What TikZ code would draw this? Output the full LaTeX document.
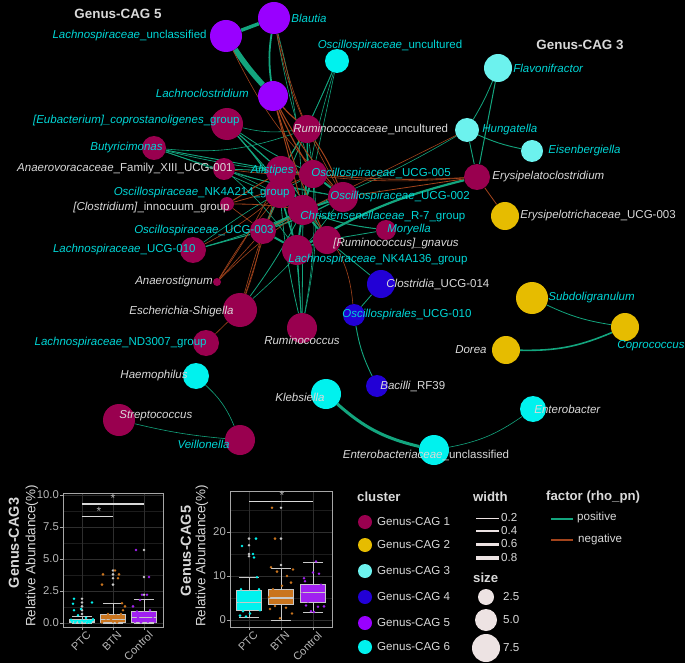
\documentclass[tikz,border=0pt]{standalone}
\usepackage{fontspec}
\setmainfont{Liberation Sans}
\usetikzlibrary{positioning,backgrounds}
\pgfdeclarelayer{edgelayer}
\pgfsetlayers{background,edgelayer,main}
\definecolor{cagOne}{HTML}{99004F}
\definecolor{cagTwo}{HTML}{E6BC00}
\definecolor{cagThree}{HTML}{6CF2EE}
\definecolor{cagFour}{HTML}{2200D6}
\definecolor{cagFive}{HTML}{9900FF}
\definecolor{cagSix}{HTML}{00F2EE}
\definecolor{labCyan}{HTML}{00D6D6}
\definecolor{labGrey}{HTML}{D9D9D9}
\definecolor{posColor}{HTML}{13A57E}
\definecolor{negColor}{HTML}{A3441C}
\definecolor{gridMajor}{HTML}{2E2E2E}
\definecolor{gridMinor}{HTML}{1C1C1C}
\definecolor{frameColor}{HTML}{A6A6A6}
\definecolor{boxLine}{HTML}{C8C8C8}
\definecolor{btnColor}{HTML}{C9741E}
\definecolor{ctlColor}{HTML}{A020F0}
\definecolor{legLight}{HTML}{EDE3E3}
\newcommand{\netfont}{\fontsize{11.5}{13}\selectfont}
\newcommand{\gn}[1]{\textit{#1}}
% one box with whiskers: x, lo, q1, median, q3, hi, fill
\newcommand{\boxwhisk}[7]{%
	\draw[boxLine, line width=0.8pt] (#1,#2) -- (#1,#3) (#1,#5) -- (#1,#6);
	\draw[boxLine, line width=0.8pt] (#1-10,#2) -- (#1+10,#2) (#1-10,#6) -- (#1+10,#6);
	\draw[boxLine, fill=#7, line width=0.8pt] (#1-12.5,#3) rectangle (#1+12.5,#5);
	\draw[boxLine, line width=1.2pt] (#1-12.5,#4) -- (#1+12.5,#4);
}
\tikzset{
	taxon/.style={circle, inner sep=0pt, minimum size=#1},
	cagA/.style={taxon=#1, fill=cagOne},
	cagB/.style={taxon=#1, fill=cagTwo},
	cagC/.style={taxon=#1, fill=cagThree},
	cagD/.style={taxon=#1, fill=cagFour},
	cagE/.style={taxon=#1, fill=cagFive},
	cagF/.style={taxon=#1, fill=cagSix},
	cyanlab/.style={text=labCyan, font=\netfont, inner sep=1pt},
	greylab/.style={text=labGrey, font=\netfont, inner sep=1pt},
	captitle/.style={text=labGrey, font=\bfseries\fontsize{13.4}{15}\selectfont},
	posedge/.style={draw=posColor, line width=#1},
	negedge/.style={draw=negColor, line width=#1},
	ticklab/.style={text=labGrey!85!black, font=\fontsize{11.3}{13}\selectfont, inner sep=1pt},
	axtitle/.style={text=labGrey, font=\fontsize{13.5}{15}\selectfont, inner sep=0pt},
	legtitle/.style={text=labGrey, font=\bfseries\fontsize{13.2}{15}\selectfont, inner sep=0pt},
	legtext/.style={text=labGrey, font=\fontsize{11.6}{13}\selectfont, inner sep=0pt},
	sigbar/.style={draw=labGrey, line width=1.2pt}
}

\begin{document}
\begin{tikzpicture}[x=1pt, y=-1pt]
	\useasboundingbox (0,0) rectangle (685,663);
	\begin{scope}[on background layer]
		\fill[black] (0,0) rectangle (685,663);
	\end{scope}
	
	% Genus-CAG 5
	\node[cagE=32] at (274,18) (blautia) {};
	\node[cagE=32] at (226,36) (lachunc) {};
	\node[cagE=30] at (273,96) (lachnoclos) {};
	% Genus-CAG 3
	\node[cagC=28] at (498,68) (flavon) {};
	\node[cagC=24] at (467,130) (hungat) {};
	\node[cagC=22] at (532,151) (eisenb) {};
	% Genus-CAG 2
	\node[cagB=28] at (505,216) (erysuc3) {};
	\node[cagB=32] at (532,298) (subdoli) {};
	\node[cagB=28] at (625,327) (coproc) {};
	\node[cagB=28] at (506,350) (dorea) {};
	% Genus-CAG 4
	\node[cagD=28] at (381,284) (clostr14) {};
	\node[cagD=22] at (354,315) (oscl010) {};
	\node[cagD=22] at (377,386) (bacilli) {};
	% Genus-CAG 6
	\node[cagF=24] at (337,61) (oscunc) {};
	\node[cagF=26] at (533,409) (enterobacter) {};
	\node[cagF=30] at (434,450) (enterounc) {};
	\node[cagF=30] at (326,394) (klebsiella) {};
	\node[cagF=26] at (196,376) (haemoph) {};
	% Genus-CAG 1
	\node[cagA=26] at (477,177) (erysipela) {};
	\node[cagA=32] at (119,420) (streptoc) {};
	\node[cagA=30] at (240,440) (veillon) {};
	\node[cagA=34] at (240,310) (escher) {};
	\node[cagA=26] at (206,343) (lachnd3007) {};
	\node[cagA=30] at (302,328) (rumino) {};
	\node[cagA=8] at (217,282) (anaerost) {};
	\node[cagA=26] at (193,250) (lachucg010) {};
	\node[cagA=26] at (263,231) (oscucg003) {};
	\node[cagA=14] at (227,204) (clostinnoc) {};
	\node[cagA=22] at (224,169) (anaerovor) {};
	\node[cagA=24] at (154,148) (butyr) {};
	\node[cagA=32] at (227,124) (eubact) {};
	\node[cagA=28] at (307,129) (rumunc) {};
	\node[cagA=20] at (386,230) (moryella) {};
	\node[cagA=30] at (297,250) (lachnk4a136) {};
	\node[cagA=28] at (327,240) (rumgnav) {};
	\node[cagA=30] at (280,193) (oscnk4a214) {};
	\node[cagA=30] at (281,171) (alistipes) {};
	\node[cagA=30] at (303,210) (christ) {};
	\node[cagA=28] at (313,174) (oscucg005) {};
	\node[cagA=30] at (343,197) (oscucg002) {};
	
	\begin{pgfonlayer}{edgelayer}
		% positive
		\foreach \a/\b/\w/\bd in {lachunc/lachnoclos/5.5/-4, lachunc/blautia/3.5/0, blautia/lachnoclos/1.8/-8,
			klebsiella/enterounc/3/-14, dorea/coproc/1.6/-12, subdoli/coproc/0.8/-8, enterounc/enterobacter/0.6/-12,
			haemoph/veillon/0.6/12, streptoc/veillon/0.6/-4, clostr14/oscl010/0.8/0, oscl010/bacilli/0.9/-8,
			rumgnav/clostr14/0.8/0, flavon/hungat/0.8/4, flavon/erysipela/1/0, hungat/eisenb/0.9/-6,
			hungat/erysipela/0.9/0, hungat/christ/0.6/4, erysipela/lachnk4a136/2.2/-8,
			oscunc/rumunc/0.6/0, oscunc/alistipes/0.6/4, oscunc/oscucg005/0.6/0, oscunc/christ/0.6/-4,
			blautia/oscucg005/0.6/-4, blautia/christ/0.6/6,
			butyr/oscucg005/0.7/-4, butyr/oscucg002/0.7/-4, butyr/christ/0.7/4, butyr/alistipes/0.9/0, butyr/rumunc/0.6/-12,
			eubact/rumunc/0.6/-10, eubact/oscucg005/0.8/-4, eubact/alistipes/1.2/0, eubact/oscnk4a214/1.2/4, eubact/christ/0.8/0,
			anaerovor/alistipes/0.8/0, anaerovor/christ/0.6/4, anaerovor/oscucg002/0.6/-4, anaerovor/lachnk4a136/0.6/6,
			rumino/oscnk4a214/0.8/4, rumino/christ/0.8/0, rumino/alistipes/0.6/-4, rumino/lachnk4a136/1/0,
			rumino/oscucg005/0.6/-6, rumino/rumunc/0.6/-10, escher/christ/0.8/-4, escher/oscucg002/0.6/-6,
			lachucg010/christ/0.8/-4, lachucg010/oscucg005/0.6/4, lachucg010/oscucg003/1/0,
			rumunc/alistipes/1/0, rumunc/oscnk4a214/0.8/0, rumunc/christ/1.4/4,
			christ/oscucg003/3/0, oscnk4a214/christ/3/0, alistipes/christ/2.5/0, alistipes/oscucg005/2/0,
			oscucg005/oscucg002/2/0, oscucg002/christ/2/0, oscucg003/lachnk4a136/2/0, christ/lachnk4a136/2/0,
			christ/rumgnav/2/0, oscnk4a214/oscucg003/2/0, alistipes/oscnk4a214/3/0, oscucg005/christ/2/0,
			christ/moryella/1/-6, moryella/rumgnav/0.8/0, lachnk4a136/rumgnav/1.4/0, alistipes/rumgnav/1/4,
			oscnk4a214/lachnk4a136/1.6/0, oscucg003/oscucg002/1.2/-4}
			\path (\a) edge[posedge=\w pt, bend left=\bd] (\b);
		% negative
		\foreach \a/\b/\w/\bd in {erysipela/erysuc3/0.8/0, erysipela/oscucg005/0.8/4, erysipela/oscucg002/0.8/0,
			erysipela/alistipes/0.6/6, hungat/oscucg003/0.6/0,
			lachnoclos/rumunc/1.2/-4, lachnoclos/oscucg005/1.2/-4, lachnoclos/oscucg002/1/-6, lachnoclos/christ/1/0,
			lachnoclos/rumgnav/1/-4, blautia/rumunc/0.6/-6, blautia/oscucg002/0.6/-8, lachunc/oscucg002/0.6/-10,
			escher/lachnd3007/0.6/0, escher/oscucg003/0.6/-4, escher/oscnk4a214/0.6/4, escher/alistipes/0.6/-2,
			anaerost/oscucg003/0.6/0, anaerost/oscnk4a214/0.6/4, anaerost/alistipes/0.6/-4, anaerost/christ/0.6/4,
			clostinnoc/alistipes/1/0, clostinnoc/oscucg005/0.8/-4, clostinnoc/christ/0.8/4, clostinnoc/oscucg003/0.6/0,
			anaerovor/oscucg005/0.6/-4, christ/oscl010/0.6/20, lachucg010/oscnk4a214/0.6/-6, oscucg002/rumunc/1/-6}
			\path (\a) edge[negedge=\w pt, bend left=\bd] (\b);
	\end{pgfonlayer}
	
	% labels
	\node[cyanlab, right=0pt of blautia] (blautiaT) {\gn{Blautia}};
	\node[cyanlab, left=2pt of lachunc] (lachuncT) {\gn{Lachnospiraceae}\_unclassified};
	\node[cyanlab, left=8pt of lachnoclos, yshift=3pt] (lachnoclosT) {\gn{Lachnoclostridium}};
	\node[cyanlab, above=-3pt of oscunc, xshift=53pt] (oscuncT) {\gn{Oscillospiraceae}\_uncultured};
	\node[cyanlab, right=0pt of flavon] (flavonT) {\gn{Flavonifractor}};
	\node[cyanlab, right=2pt of hungat] (hungatT) {\gn{Hungatella}};
	\node[cyanlab, right=4pt of eisenb] (eisenbT) {\gn{Eisenbergiella}};
	\node[greylab, right=1pt of erysipela] (erysipelaT) {\gn{Erysipelatoclostridium}};
	\node[greylab, right=0pt of erysuc3] (erysuc3T) {\gn{Erysipelotrichaceae}\_UCG-003};
	\node[cyanlab, right=-1pt of subdoli] (subdoliT) {\gn{Subdoligranulum}};
	\node[cyanlab, below=-2pt of coproc, xshift=26pt] (coprocT) {\gn{Coprococcus}};
	\node[greylab, left=4pt of dorea] (doreaT) {\gn{Dorea}};
	\node[greylab, right=-10pt of clostr14] (clostr14T) {\gn{Clostridia}\_UCG-014};
	\node[cyanlab, right=-24pt of oscl010] (oscl010T) {\gn{Oscillospirales}\_UCG-010};
	\node[greylab, right=-9pt of bacilli] (bacilliT) {\gn{Bacilli}\_RF39};
	\node[greylab, right=-13pt of enterobacter] (enterobacterT) {\gn{Enterobacter}};
	\node[greylab, below=-16pt of enterounc, xshift=-8pt] (enterouncT) {\gn{Enterobacteriaceae}\_unclassified};
	\node[greylab, left=-15pt of klebsiella, yshift=-3pt] (klebsiellaT) {\gn{Klebsiella}};
	\node[greylab, left=-6pt of haemoph] (haemophT) {\gn{Haemophilus}};
	\node[greylab, right=-17pt of streptoc, yshift=4pt] (streptocT) {\gn{Streptococcus}};
	\node[cyanlab, left=-6pt of veillon, yshift=-4pt] (veillonT) {\gn{Veillonella}};
	\node[greylab, left=-12pt of escher, yshift=-2pt] (escherT) {\gn{Escherichia-Shigella}};
	\node[cyanlab, left=-15pt of lachnd3007] (lachnd3007T) {\gn{Lachnospiraceae}\_ND3007\_group};
	\node[greylab, below=-8pt of rumino] (ruminoT) {\gn{Ruminococcus}};
	\node[greylab, left=-1pt of anaerost] (anaerostT) {\gn{Anaerostignum}};
	\node[cyanlab, left=-17pt of lachucg010] (lachucg010T) {\gn{Lachnospiraceae}\_UCG-010};
	\node[cyanlab, left=-25pt of oscucg003] (oscucg003T) {\gn{Oscillospiraceae}\_UCG-003};
	\node[greylab, left=-11pt of clostinnoc, yshift=-4pt] (clostinnocT) {\gn{[Clostridium]}\_innocuum\_group};
	\node[cyanlab, left=-26pt of oscnk4a214] (oscnk4a214T) {\gn{Oscillospiraceae}\_NK4A214\_group};
	\node[greylab, left=-21pt of anaerovor] (anaerovorT) {\gn{Anaerovoracaceae}\_Family\_XIII\_UCG-001};
	\node[cyanlab, left=-22pt of butyr] (butyrT) {\gn{Butyricimonas}};
	\node[cyanlab, left=-30pt of eubact, yshift=3pt] (eubactT) {\gn{[Eubacterium]\_coprostanoligenes}\_group};
	\node[greylab, right=-29pt of rumunc] (rumuncT) {\gn{Ruminococcaceae}\_uncultured};
	\node[cyanlab, left=-29pt of alistipes] (alistipesT) {\gn{Alistipes}};
	\node[cyanlab, right=-17pt of oscucg005] (oscucg005T) {\gn{Oscillospiraceae}\_UCG-005};
	\node[cyanlab, right=-29pt of oscucg002] (oscucg002T) {\gn{Oscillospiraceae}\_UCG-002};
	\node[cyanlab, right=-19pt of christ, yshift=-7pt] (christT) {\gn{Christensenellaceae}\_R-7\_group};
	\node[cyanlab, right=-10pt of moryella] (moryellaT) {\gn{Moryella}};
	\node[greylab, right=-9pt of rumgnav, yshift=-4pt] (rumgnavT) {\gn{[Ruminococcus]\_gnavus}};
	\node[cyanlab, right=-25pt of lachnk4a136, yshift=-10pt] (lachnk4a136T) {\gn{Lachnospiraceae}\_NK4A136\_group};
	
	\node[captitle] at (118,14) (capFive) {Genus-CAG 5};
	\node[captitle] at (580,45) (capThree) {Genus-CAG 3};
	
	% boxplot Genus-CAG3
	\begin{scope}[shift={(0,623)}, y=12.8pt]
		\foreach \v in {1.25,3.75,6.25,8.75} \draw[gridMinor, line width=0.4pt] (63,\v) -- (163,\v);
		\foreach \v in {0,2.5,5,7.5,10} \draw[gridMajor, line width=0.8pt] (63,\v) -- (163,\v);
		\foreach \x in {82,113,144} \draw[gridMajor, line width=0.8pt] (\x,-0.31) -- (\x,10.16);
		\boxwhisk{82}{0}{0.02}{0.1}{0.3}{0.55}{cagSix}
		\boxwhisk{113}{0}{0.05}{0.3}{0.7}{1.55}{btnColor}
		\boxwhisk{144}{0}{0.05}{0.4}{0.9}{1.85}{ctlColor}
		\foreach \x/\v in {82/1.9,82/1.6,82/1.3,82/1.0,82/0.7,113/3.0,113/3.5,113/3.8,113/4.1,144/2.2,144/3.6,144/5.7}
			\fill[boxLine] (\x,\v) circle (1.4pt);
		\foreach \dx/\v in {-8/1.9,-9/1.5,-8/1.0,-1/1.1,10/1.6,4/0.4,-4/0.6,7/0.2,-10/0.1,-6/0.15,-2/0.05,2/0.1,
			6/0.08,9/0.12,11/0.3,0/0.2,-11/0.25,3/0.15,-7/0.05,5/0.03,8/0.05,-3/0.1}
			\fill[cagSix] (82+\dx,\v) circle (1.4pt);
		\foreach \dx/\v in {-11/3.0,-10/3.8,2/4.1,5/3.5,6/3.8,9/1.55,12/1.3,10/1.0,-9/0.5,-5/0.7,-2/0.3,3/0.6,
			7/0.4,-7/0.2,0/0.1,11/0.15,-11/0.05,4/0.05,-4/0.4,8/0.7}
			\fill[btnColor] (113+\dx,\v) circle (1.4pt);
		\foreach \dx/\v in {-8/5.7,5/3.6,-2/2.2,3/2.2,-11/1.3,-4/1.8,6/1.0,-10/0.7,-6/0.4,0/0.8,9/0.5,11/0.1,
			-9/0.1,2/0.3,7/0.7,-3/0.05,4/0.1,-7/0.9}
			\fill[ctlColor] (144+\dx,\v) circle (1.4pt);
		\draw[frameColor, line width=0.8pt] (63,-0.31) rectangle (163,10.16);
		\foreach \v/\t [count=\i] in {0/0.0,2.5/2.5,5/5.0,7.5/7.5,10/10.0} {
			\draw[frameColor] (60,\v) -- (63,\v);
			\node[ticklab, anchor=east] at (60,\v) (yA\i) {\t};
		}
		\foreach \x/\t [count=\i] in {82/PTC,113/BTN,144/Control} {
			\draw[frameColor] (\x,-0.31) -- (\x,-0.55);
			\node[ticklab, font=\fontsize{11}{12}\selectfont, rotate=45, anchor=north east] at (\x+4,-0.45) (xA\i) {\t};
		}
		\draw[sigbar] (82,9.3) -- (144,9.3);
		\node[ticklab, font=\fontsize{12}{13}\selectfont] at (113,9.75) (starA) {*};
		\draw[sigbar] (82,8.3) -- (113,8.3);
		\node[ticklab, font=\fontsize{12}{13}\selectfont] at (99,8.75) (starB) {*};
	\end{scope}
	\node[axtitle, rotate=90] at (32,556) (ttlA) {Relative Abundance(\%)};
	\node[captitle, rotate=90, font=\bfseries\fontsize{14.5}{16}\selectfont] at (14,543) (capA) {Genus-CAG3};
	
	% boxplot Genus-CAG5
	\begin{scope}[shift={(0,620)}, y=4.4pt]
		\foreach \v in {5,15,25} \draw[gridMinor, line width=0.4pt] (230,\v) -- (332,\v);
		\foreach \v in {0,10,20} \draw[gridMajor, line width=0.8pt] (230,\v) -- (332,\v);
		\foreach \x in {249,281,313} \draw[gridMajor, line width=0.8pt] (\x,-1.6) -- (\x,29.3);
		\boxwhisk{249}{0.5}{2.2}{4.0}{6.8}{9.7}{cagSix}
		\boxwhisk{281}{0}{3.5}{5.0}{7.0}{11.8}{btnColor}
		\boxwhisk{313}{1.8}{3.9}{6.2}{8.1}{13.2}{ctlColor}
		\foreach \x/\v in {249/14.5,249/15,249/17,249/18.5,281/12.5,281/18.5,281/25.5}
			\fill[boxLine] (\x,\v) circle (1.4pt);
		\foreach \dx/\v in {-7/16.8,7/18.5,4/15,5/14.2,8/9.7,-8/7.0,10/7.0,-9/1.0,-6/2.0,-4/3.0,2/4.5,6/2.5,
			-2/5.5,9/3.2,-10/4.2,1/1.5,-5/6.2,4/5.0,11/2.2,-3/0.8,7/5.8}
			\fill[cagSix] (249+\dx,\v) circle (1.4pt);
		\foreach \dx/\v in {-9/25.5,-6/18.5,-10/12,12/11.5,-4/11,6/10,10/8.5,-8/7,3/4,-11/2.5,-2/6,8/5.5,
			11/1.5,-6/3.2,1/7.8,5/2.8,-1/0.4,9/4.5,-12/5.2,4/6.6}
			\fill[btnColor] (281+\dx,\v) circle (1.4pt);
		\foreach \dx/\v in {3/13.3,-9/9.5,-8/8.8,6/10.5,0/10.8,-11/6.0,10/5.0,-5/4.2,2/7.4,8/8.0,-2/2.0,
			5/3.0,-7/3.3,11/3.1,-10/5.5,1/1.8,7/6.8,-4/7.2}
			\fill[ctlColor] (313+\dx,\v) circle (1.4pt);
		\draw[frameColor, line width=0.8pt] (230,-1.6) rectangle (332,29.3);
		\foreach \v [count=\i] in {0,10,20} {
			\draw[frameColor] (227,\v) -- (230,\v);
			\node[ticklab, anchor=east] at (227,\v) (yB\i) {\v};
		}
		\foreach \x/\t [count=\i] in {249/PTC,281/BTN,313/Control} {
			\draw[frameColor] (\x,-1.6) -- (\x,-2.3);
			\node[ticklab, font=\fontsize{11}{12}\selectfont, rotate=45, anchor=north east] at (\x+4,-2.1) (xB\i) {\t};
		}
		\draw[sigbar] (249,27) -- (313,27);
		\node[ticklab, font=\fontsize{12}{13}\selectfont] at (282,28.4) (starC) {*};
	\end{scope}
	\node[axtitle, rotate=90] at (202,556) (ttlB) {Relative Abundance(\%)};
	\node[captitle, rotate=90, font=\bfseries\fontsize{14.5}{16}\selectfont] at (186,551) (capB) {Genus-CAG5};
	
	% legend
	\node[legtitle, anchor=west] at (357,497) (clusterT) {cluster};
	\foreach \c/\y [count=\i] in {cagOne/522,cagTwo/545,cagThree/571,cagFour/597,cagFive/623,cagSix/647} {
		\fill[\c] (365,\y) circle (7pt);
		\node[legtext, anchor=west] at (377,\y) (legC\i) {Genus-CAG \i};
	}
	\node[legtitle, anchor=west] at (473,497) (widthT) {width};
	\foreach \y/\w/\t [count=\i] in {518/0.8/0.2,531/1.8/0.4,544/3/0.6,558/4.5/0.8} {
		\draw[legLight, line width=\w pt] (476,\y) -- (499,\y);
		\node[legtext, anchor=west] at (501,\y) (legW\i) {\t};
	}
	\node[legtitle, anchor=west] at (473,578) (sizeT) {size};
	\foreach \y/\r/\t [count=\i] in {597/8/2.5,620/11/5.0,648/14/7.5} {
		\fill[legLight] (486,\y) circle (\r pt);
		\node[legtext, anchor=west] at (503,\y) (legS\i) {\t};
	}
	\node[legtitle, anchor=west] at (546,497) (factorT) {factor (rho\_pn)};
	\draw[posColor, line width=1.5pt] (551,519) -- (573,519);
	\node[legtext, anchor=west] at (577,517) (legP) {positive};
	\draw[negColor, line width=1.5pt] (551,540) -- (573,540);
	\node[legtext, anchor=west] at (578,539) (legN) {negative};
\end{tikzpicture}
\end{document}
